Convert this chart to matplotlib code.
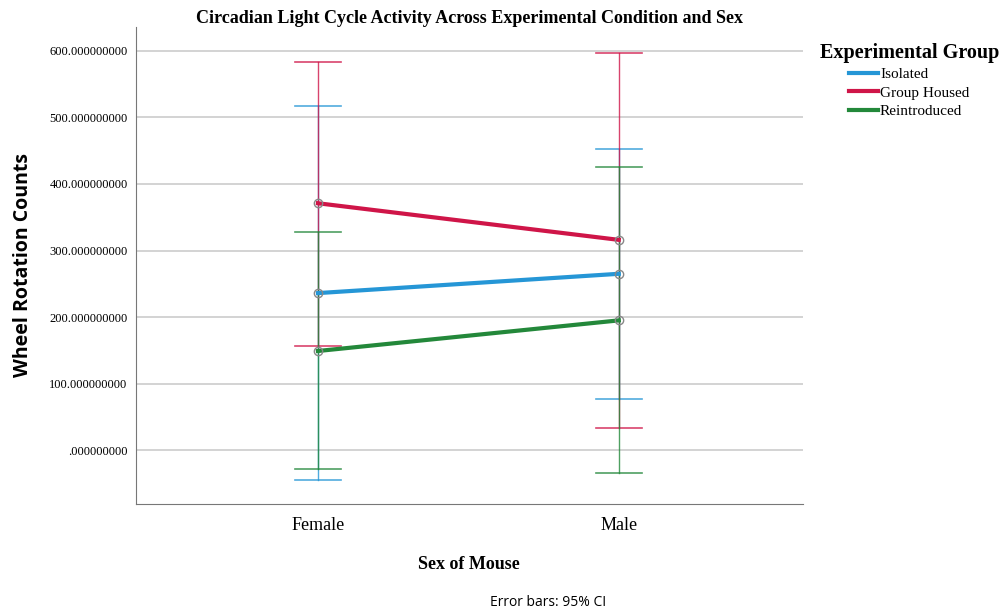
import matplotlib.pyplot as plt
import numpy as np

# --- datos ---
sexes = ["Female", "Male"]
groups = ["Isolated", "Group Housed", "Reintroduced"]
colors = ["#2596d6", "#cf1548", "#23883a"]

means = {
    "Isolated": [236, 265],
    "Group Housed": [371, 316],
    "Reintroduced": [149, 195],
}
ci_low = {
    "Isolated": [-45, 77],
    "Group Housed": [156, 33],
    "Reintroduced": [-29, -34],
}
ci_high = {
    "Isolated": [517, 453],
    "Group Housed": [583, 597],
    "Reintroduced": [328, 426],
}
yticks = [0, 100, 200, 300, 400, 500, 600]
ytick_labels = [".000000000", "100.000000000", "200.000000000", "300.000000000",
                "400.000000000", "500.000000000", "600.000000000"]

serif = "Liberation Serif"

fig = plt.figure(figsize=(10.07, 6.11), dpi=100)
ax = fig.add_axes([0.135, 0.175, 0.662, 0.781])

x = np.arange(len(sexes))
cap = 0.076

# barras de error primero (finas)
for g, c in zip(groups, colors):
    for i in x:
        lo, hi = ci_low[g][i], ci_high[g][i]
        ax.plot([i, i], [lo, hi], color=c, lw=1.0, alpha=0.8, zorder=2)
        ax.plot([i - cap, i + cap], [lo, lo], color=c, lw=1.2, alpha=0.8, zorder=2)
        ax.plot([i - cap, i + cap], [hi, hi], color=c, lw=1.2, alpha=0.8, zorder=2)

# líneas de medias
for g, c in zip(groups, colors):
    ax.plot(x, means[g], color=c, lw=3, label=g, zorder=3)
    ax.plot(x, means[g], 'o', ms=6, mfc="none", mec="#888888", mew=1, zorder=4)

ax.set_xlim(-0.605, 1.611)
ax.set_ylim(-81, 636)
ax.set_xticks(x)
ax.set_xticklabels(sexes, fontsize=13, family=serif)
ax.tick_params(axis="x", length=0, pad=9)
ax.set_yticks(yticks)
ax.set_yticklabels(ytick_labels, fontsize=9, family=serif)
ax.tick_params(axis="y", length=0, pad=6)

ax.grid(axis="y", color="#cccccc", lw=1.2)
ax.set_axisbelow(True)
for s in ["top", "right"]:
    ax.spines[s].set_visible(False)
for s in ["left", "bottom"]:
    ax.spines[s].set_color("#777777")

ax.set_xlabel("Sex of Mouse", fontsize=13, family=serif, weight="bold", labelpad=16)
ax.set_ylabel("Wheel Rotation Counts", fontsize=14, family="Open Sans", weight="bold", labelpad=12)
ax.set_title("Circadian Light Cycle Activity Across Experimental Condition and Sex",
             fontsize=13, family=serif, weight="bold", pad=3)

leg = ax.legend(loc="upper left", bbox_to_anchor=(1.005, 0.995), frameon=False,
                title="Experimental Group", prop={"family": serif, "size": 11},
                handlelength=1.9, handletextpad=0.1, labelspacing=0.3)
leg.get_title().set_fontfamily(serif)
leg.get_title().set_fontsize(14.5)
leg.get_title().set_fontweight("bold")

fig.text(0.544, 0.008, "Error bars: 95% CI", fontsize=10, family="Open Sans", ha="center")

fig.savefig("out.png", dpi=100)
